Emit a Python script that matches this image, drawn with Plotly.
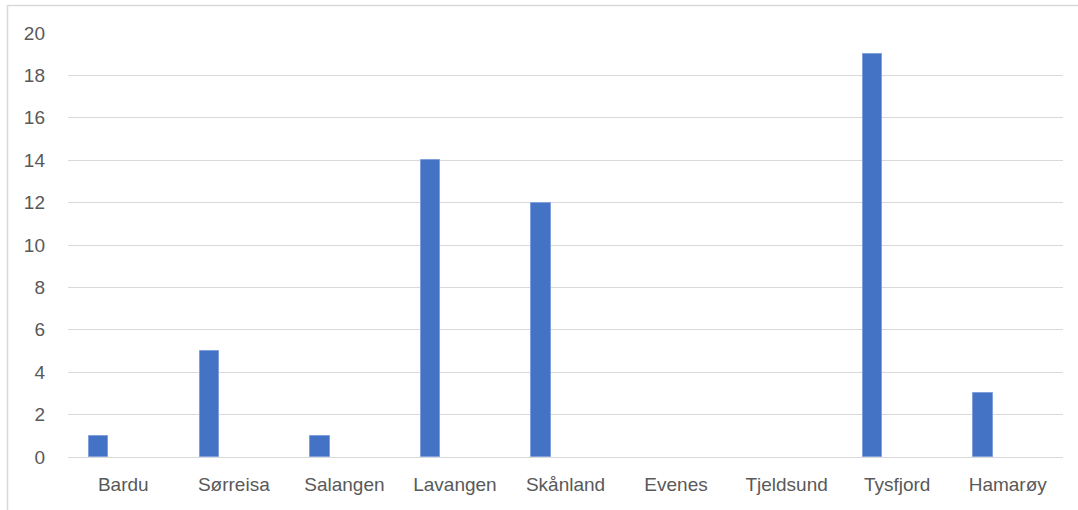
import plotly.graph_objects as go

categories = ["Bardu", "Sørreisa", "Salangen", "Lavangen", "Skånland",
              "Evenes", "Tjeldsund", "Tysfjord", "Hamarøy"]
values = [1, 5, 1, 14, 12, 0, 0, 19, 3]
y_ticks = list(range(0, 21, 2))

W, H = 1078, 510
L, R, T, B = 68, 15, 33, 52.5
pw, ph = W - L - R, H - T - B

def px_x(p):
    return (p - L) / pw

def px_y(p):
    return (H - B - p) / ph

fig = go.Figure()
fig.add_trace(go.Bar(
    x=categories, y=values,
    width=0.176, offset=-0.31,
    marker=dict(color="#4472C4",
                line=dict(color="#7fa0dc", width=[1 if v > 0 else 0 for v in values])),
    hoverinfo="x+y",
))

font = dict(family="Liberation Sans, Arial, sans-serif", size=19, color="#595959")

fig.update_layout(
    width=W, height=H,
    margin=dict(l=L, r=R, t=T, b=B, pad=0),
    plot_bgcolor="white", paper_bgcolor="white",
    showlegend=False,
    bargap=0,
    xaxis=dict(showline=False, showgrid=False, tickfont=font,
               ticks="", ticklabelstandoff=14, fixedrange=True),
    yaxis=dict(range=[0, 20], tickvals=y_ticks, showline=False,
               gridcolor="#d9d9d9", gridwidth=1, zeroline=True,
               zerolinecolor="#d9d9d9", zerolinewidth=1,
               tickfont=font, ticks="", ticklabelstandoff=22, fixedrange=True),
    shapes=[
        dict(type="line", xref="paper", yref="paper", x0=px_x(7.5), x1=px_x(7.5),
             y0=px_y(5), y1=px_y(515), line=dict(color="#d9d9d9", width=1.5)),
        dict(type="line", xref="paper", yref="paper", x0=px_x(7.5), x1=px_x(1085),
             y0=px_y(5.5), y1=px_y(5.5), line=dict(color="#d9d9d9", width=1.5)),
    ],
)

fig.write_html("out.html")
